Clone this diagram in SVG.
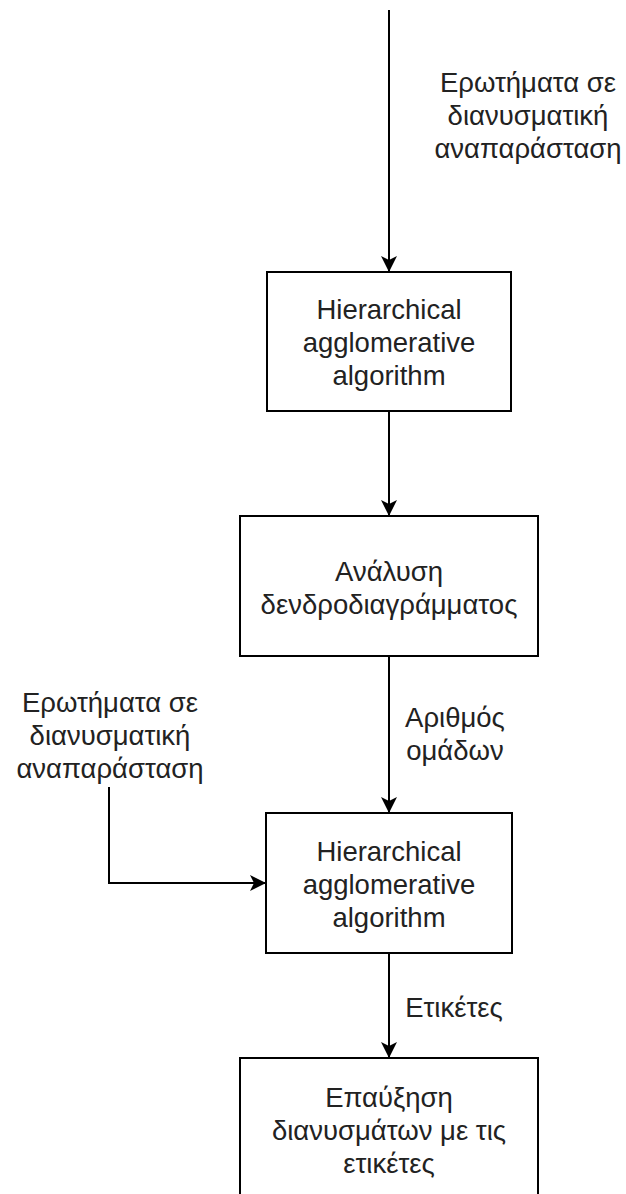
<svg xmlns="http://www.w3.org/2000/svg" width="626" height="1194" viewBox="0 0 626 1194">
<style>
.box{fill:#fff;stroke:#000;stroke-width:2}
.edge{fill:none;stroke:#000;stroke-width:2}
text{font-family:"Liberation Sans",Arial,sans-serif;font-size:27.5px;fill:#222;text-anchor:middle}
</style>
<defs>
<marker id="arr" markerUnits="userSpaceOnUse" markerWidth="18" markerHeight="18" refX="16" refY="8" orient="auto">
<path d="M0,0 L16,8 L0,16 L4,8 Z" fill="#000"/>
</marker>
</defs>
<rect width="626" height="1194" fill="#fff"/>
<g id="connectors">
<path class="edge" d="M389,10 V272" marker-end="url(#arr)"/>
<path class="edge" d="M389,411 V516" marker-end="url(#arr)"/>
<path class="edge" d="M389,656 V813" marker-end="url(#arr)"/>
<path class="edge" d="M109,787 V883 H266" marker-end="url(#arr)"/>
<path class="edge" d="M389,953 V1058" marker-end="url(#arr)"/>
</g>
<g id="label-top">
<text x="528" y="92">Ερωτήματα σε</text>
<text x="528" y="125">διανυσματική</text>
<text x="528" y="158">αναπαράσταση</text>
</g>
<g id="node-hac1">
<rect class="box" x="267" y="272" width="244" height="139"/>
<text x="389" y="319">Hierarchical</text>
<text x="389" y="352">agglomerative</text>
<text x="389" y="385">algorithm</text>
</g>
<g id="node-dendro">
<rect class="box" x="240" y="516" width="298" height="140"/>
<text x="389" y="581">Ανάλυση</text>
<text x="389" y="614">δενδροδιαγράμματος</text>
</g>
<g id="label-clusters">
<text x="455" y="727">Αριθμός</text>
<text x="455" y="760">ομάδων</text>
</g>
<g id="label-left">
<text x="110" y="712">Ερωτήματα σε</text>
<text x="110" y="745">διανυσματική</text>
<text x="110" y="778">αναπαράσταση</text>
</g>
<g id="node-hac2">
<rect class="box" x="266" y="813" width="246" height="140"/>
<text x="389" y="861">Hierarchical</text>
<text x="389" y="894">agglomerative</text>
<text x="389" y="927">algorithm</text>
</g>
<g id="label-labels">
<text x="454" y="1017">Ετικέτες</text>
</g>
<g id="node-augment">
<rect class="box" x="240" y="1058" width="298" height="140"/>
<text x="389" y="1107">Επαύξηση</text>
<text x="389" y="1140">διανυσμάτων με τις</text>
<text x="389" y="1173">ετικέτες</text>
</g>
</svg>
